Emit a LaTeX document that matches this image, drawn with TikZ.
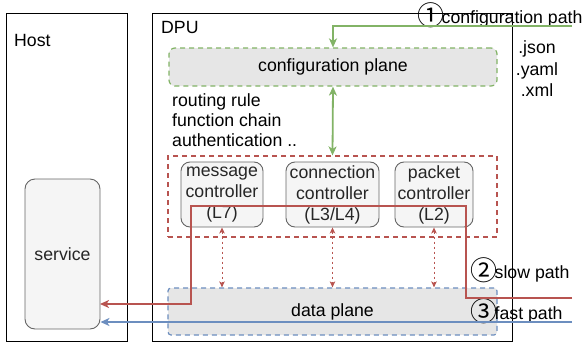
\documentclass[tikz,border=0pt]{standalone}
\usepackage{fontspec}
\setmainfont{Liberation Sans}
\newfontfamily\cjkfont{Noto Sans CJK SC}
\usetikzlibrary{arrows.meta}
\definecolor{cgreen}{HTML}{82B366}
\definecolor{cred}{HTML}{B85450}
\definecolor{cblue}{HTML}{6C8EBF}
\definecolor{cfillA}{HTML}{E6E6E6}
\definecolor{cfillB}{HTML}{F5F5F5}
\definecolor{cgray}{HTML}{666666}
\newcommand{\circnum}[1]{\kern-2pt\raisebox{-2pt}{\cjkfont\fontsize{27}{27}\selectfont #1}\kern-2.5pt}
\tikzset{
  frame/.style={draw=black, line width=0.9pt, inner sep=0pt},
  ctrlbox/.style={draw=cgray, fill=cfillB, rounded corners=9pt, line width=0.9pt, inner sep=0pt, align=center, text=black!85},
  plane/.style={fill=cfillA, rounded corners=6pt, line width=1.2pt, dash pattern=on 5pt off 4pt, inner sep=0pt},
  lbl/.style={inner sep=0pt},
  path/.style={line width=1.8pt},
  tip/.style={-{Stealth[length=9pt,width=8pt,inset=2.5pt]}},
  tips/.style={{Stealth[length=9pt,width=8pt,inset=2.5pt]}-{Stealth[length=9pt,width=8pt,inset=2.5pt]}},
  dottip/.style={{Stealth[length=6pt,width=5.5pt,inset=1.5pt]}-{Stealth[length=6pt,width=5.5pt,inset=1.5pt]}},
}
\begin{document}
\begin{tikzpicture}[x=1pt,y=-1pt,font=\fontsize{17.7}{21}\selectfont]
\useasboundingbox (0,0) rectangle (584,343);
% outer frames
\node[frame, minimum width=121pt, minimum height=328pt] (host) at (66.5,177) {};
\node[frame, minimum width=360pt, minimum height=328pt] (dpu) at (332,177) {};
\node[lbl, anchor=west] (hostlbl) at (14,40) {Host};
\node[lbl, anchor=west] (dpulbl) at (161,27) {DPU};
% service
\node[ctrlbox, rounded corners=10pt, minimum width=75pt, minimum height=150pt] (svc) at (62.5,254) {service};
% configuration plane
\node[plane, draw=cgreen, minimum width=328pt, minimum height=38pt] (cfg) at (333,67) {configuration plane};
\node[lbl, align=center, font=\fontsize{17.7}{21.5}\selectfont] (ext) at (537,69) {.json\\.yaml\\.xml};
\node[lbl, align=left, anchor=west, font=\fontsize{17.7}{20}\selectfont] (rules) at (172,120) {routing rule\\function chain\\authentication ..};
% controllers
\node[draw=cred, line width=1.2pt, dash pattern=on 5pt off 4pt, minimum width=329pt, minimum height=81pt, inner sep=0pt] (ctrl) at (332.5,196.5) {};
\node[ctrlbox, minimum width=82pt, minimum height=65pt] (msg) at (222,194.5) {message\\controller\\(L7)};
\node[ctrlbox, minimum width=93pt, minimum height=65pt] (conn) at (332.5,194.5) {connection\\controller\\(L3/L4)};
\node[ctrlbox, minimum width=78pt, minimum height=65pt] (pkt) at (434,194.5) {packet\\controller\\(L2)};
% data plane
\node[plane, draw=cblue, rounded corners=3pt, minimum width=329pt, minimum height=47pt] (data) at (332.5,311.5) {data plane};
% path labels
\node[lbl, anchor=base west] (cfglbl) at (419,23) {\circnum{①}configuration path};
\node[lbl, anchor=base west] (slowlbl) at (472,278) {\circnum{②}slow path};
\node[lbl, anchor=base west] (fastlbl) at (472,319) {\circnum{③}fast path};
% coordinates
\coordinate (cfgin) at (572,26);
\coordinate (slowin) at (572,298);
\coordinate (fastin) at (572,322);
\coordinate (svcslow) at (100,304);
% green
\draw[path, draw=cgreen, tip] (cfgin) -| (cfg.north);
\draw[path, draw=cgreen, tips] (cfg.south) -- (ctrl.north);
% red dotted
\foreach \n in {msg,conn,pkt}
  \draw[cred, line width=1pt, dash pattern=on 2.5pt off 2.5pt, dottip] (\n.south) -- (data.north -| \n.south);
% slow path
\draw[path, draw=cred, tip] (slowin) -| (466,206) -| (191,304) -- (svcslow);
% fast path
\draw[path, draw=cblue, tip] (fastin) -- (svc.east |- fastin);
\end{tikzpicture}
\end{document}
